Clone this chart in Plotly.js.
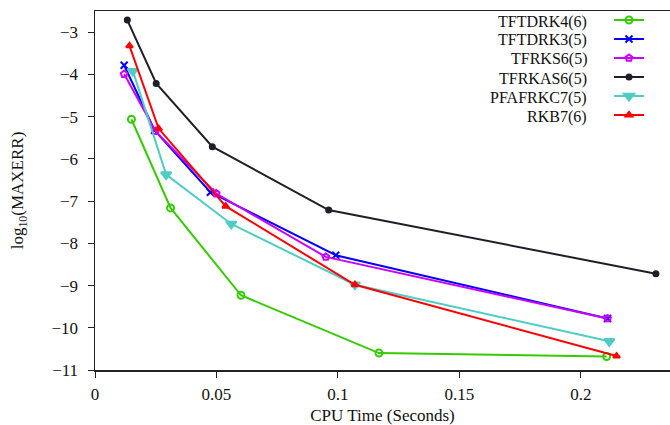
<!DOCTYPE html>
<html>
<head>
<meta charset="utf-8">
<script src="https://cdn.plot.ly/plotly-3.0.1.min.js"></script>
<style>html,body{margin:0;padding:0;background:#fff;}#chart{width:670px;height:425px;}</style>
</head>
<body>
<div id="chart"></div>
<script>
// Series names
const names = ["TFTDRK4(6)", "TFTDRK3(5)", "TFRKS6(5)", "TFRKAS6(5)", "PFAFRKC7(5)", "RKB7(6)"];

// CPU time (seconds) for each series
const x_TFTDRK4 = [0.0150, 0.0311, 0.0601, 0.1169, 0.2106];
const x_TFTDRK3 = [0.0120, 0.0245, 0.0475, 0.0991, 0.2110];
const x_TFRKS6  = [0.0120, 0.0249, 0.0499, 0.0950, 0.2110];
const x_TFRKAS6 = [0.0133, 0.0252, 0.0483, 0.0962, 0.2309];
const x_PFAFRKC7 = [0.0156, 0.0293, 0.0561, 0.1070, 0.2117];
const x_RKB7    = [0.0142, 0.0262, 0.0538, 0.1070, 0.2147];

// log10(MAXERR) for each series
const y_TFTDRK4 = [-5.06, -7.16, -9.23, -10.60, -10.68];
const y_TFTDRK3 = [-3.78, -5.32, -6.79, -8.28, -9.78];
const y_TFRKS6  = [-3.99, -5.34, -6.82, -8.32, -9.78];
const y_TFRKAS6 = [-2.71, -4.21, -5.71, -7.21, -8.72];
const y_PFAFRKC7 = [-3.92, -6.37, -7.54, -8.98, -10.32];
const y_RKB7    = [-3.32, -5.28, -7.12, -8.98, -10.67];

const xTickVals = [0, 0.05, 0.1, 0.15, 0.2];
const xTickText = ["0", "0.05", "0.1", "0.15", "0.2"];
const yTickVals = [-3, -4, -5, -6, -7, -8, -9, -10, -11];
const yTickText = ["\u22123", "\u22124", "\u22125", "\u22126", "\u22127", "\u22128", "\u22129", "\u221210", "\u221211"];

const xs = [x_TFTDRK4, x_TFTDRK3, x_TFRKS6, x_TFRKAS6, x_PFAFRKC7, x_RKB7];
const ys = [y_TFTDRK4, y_TFTDRK3, y_TFRKS6, y_TFRKAS6, y_PFAFRKC7, y_RKB7];
const colors = ["#33cc00", "#0000ff", "#cc00ff", "#1f1f2a", "#4ecdc4", "#ff0000"];
const symbols = ["circle-open", "x-thin-open", "pentagon-open", "circle", "triangle-down", "triangle-up"];
const msizes = [7, 7, 7, 5, 9, 6];

const FONT = "Liberation Serif";

const traces = names.map((n, i) => ({
  type: "scatter",
  mode: "lines+markers",
  x: xs[i],
  y: ys[i],
  name: "\u2009",
  hovertext: n,
  line: {color: colors[i], width: 2},
  marker: {symbol: symbols[i], size: msizes[i], color: colors[i],
           line: {color: colors[i], width: 2}}
}));

// legend text as annotations (right aligned, symbols to the right)
const plotTop = 11, plotH = 359;
const rowStart = 21.5, rowStep = 19;   // Plotly legend rows are 19px apart
const annotations = names.map((n, i) => ({
  xref: "paper", yref: "paper",
  x: (588 - 95) / 575, y: (plotTop + plotH - (rowStart + rowStep * i)) / plotH,
  xanchor: "right", yanchor: "middle",
  text: n, showarrow: false, borderpad: 0,
  font: {family: FONT, size: 16, color: "#111"}
}));

const layout = {
  width: 670, height: 425,
  margin: {l: 95, r: 0, t: 11, b: 55},
  paper_bgcolor: "#fff", plot_bgcolor: "#fff",
  font: {family: FONT, size: 17, color: "#111"},
  showlegend: true,
  legend: {
    x: (609 - 95) / 575, y: (plotTop + plotH - (rowStart - 16)) / plotH,
    xanchor: "left", yanchor: "top",
    bgcolor: "rgba(0,0,0,0)", borderwidth: 0,
    font: {family: FONT, size: 12.3, color: "#111"},
    tracegroupgap: 0
  },
  annotations: annotations,
  xaxis: {
    range: [0, 0.2367],
    tickvals: xTickVals, ticktext: xTickText,
    showgrid: false, zeroline: false,
    showline: true, linecolor: "#222", linewidth: 1.5, mirror: true,
    ticks: "outside", ticklen: 6, tickcolor: "#222", tickwidth: 1,
    ticklabelstandoff: 2,
    tickfont: {family: FONT, size: 17, color: "#111"},
    title: {text: "CPU Time (Seconds)", font: {family: FONT, size: 17, color: "#111"}, standoff: 8}
  },
  yaxis: {
    range: [-11, -2.495],
    tickvals: yTickVals, ticktext: yTickText,
    showgrid: false, zeroline: false,
    showline: true, linecolor: "#222", linewidth: 1.5, mirror: false,
    ticks: "outside", ticklen: 6, tickcolor: "#222", tickwidth: 1,
    ticklabelstandoff: 6,
    tickfont: {family: FONT, size: 17, color: "#111"},
    title: {text: "log<sub>10</sub>(MAXERR)", font: {family: FONT, size: 17, color: "#111"}, standoff: 23}
  }
};

Plotly.newPlot("chart", traces, layout, {displayModeBar: false, staticPlot: true});
</script>
</body>
</html>
